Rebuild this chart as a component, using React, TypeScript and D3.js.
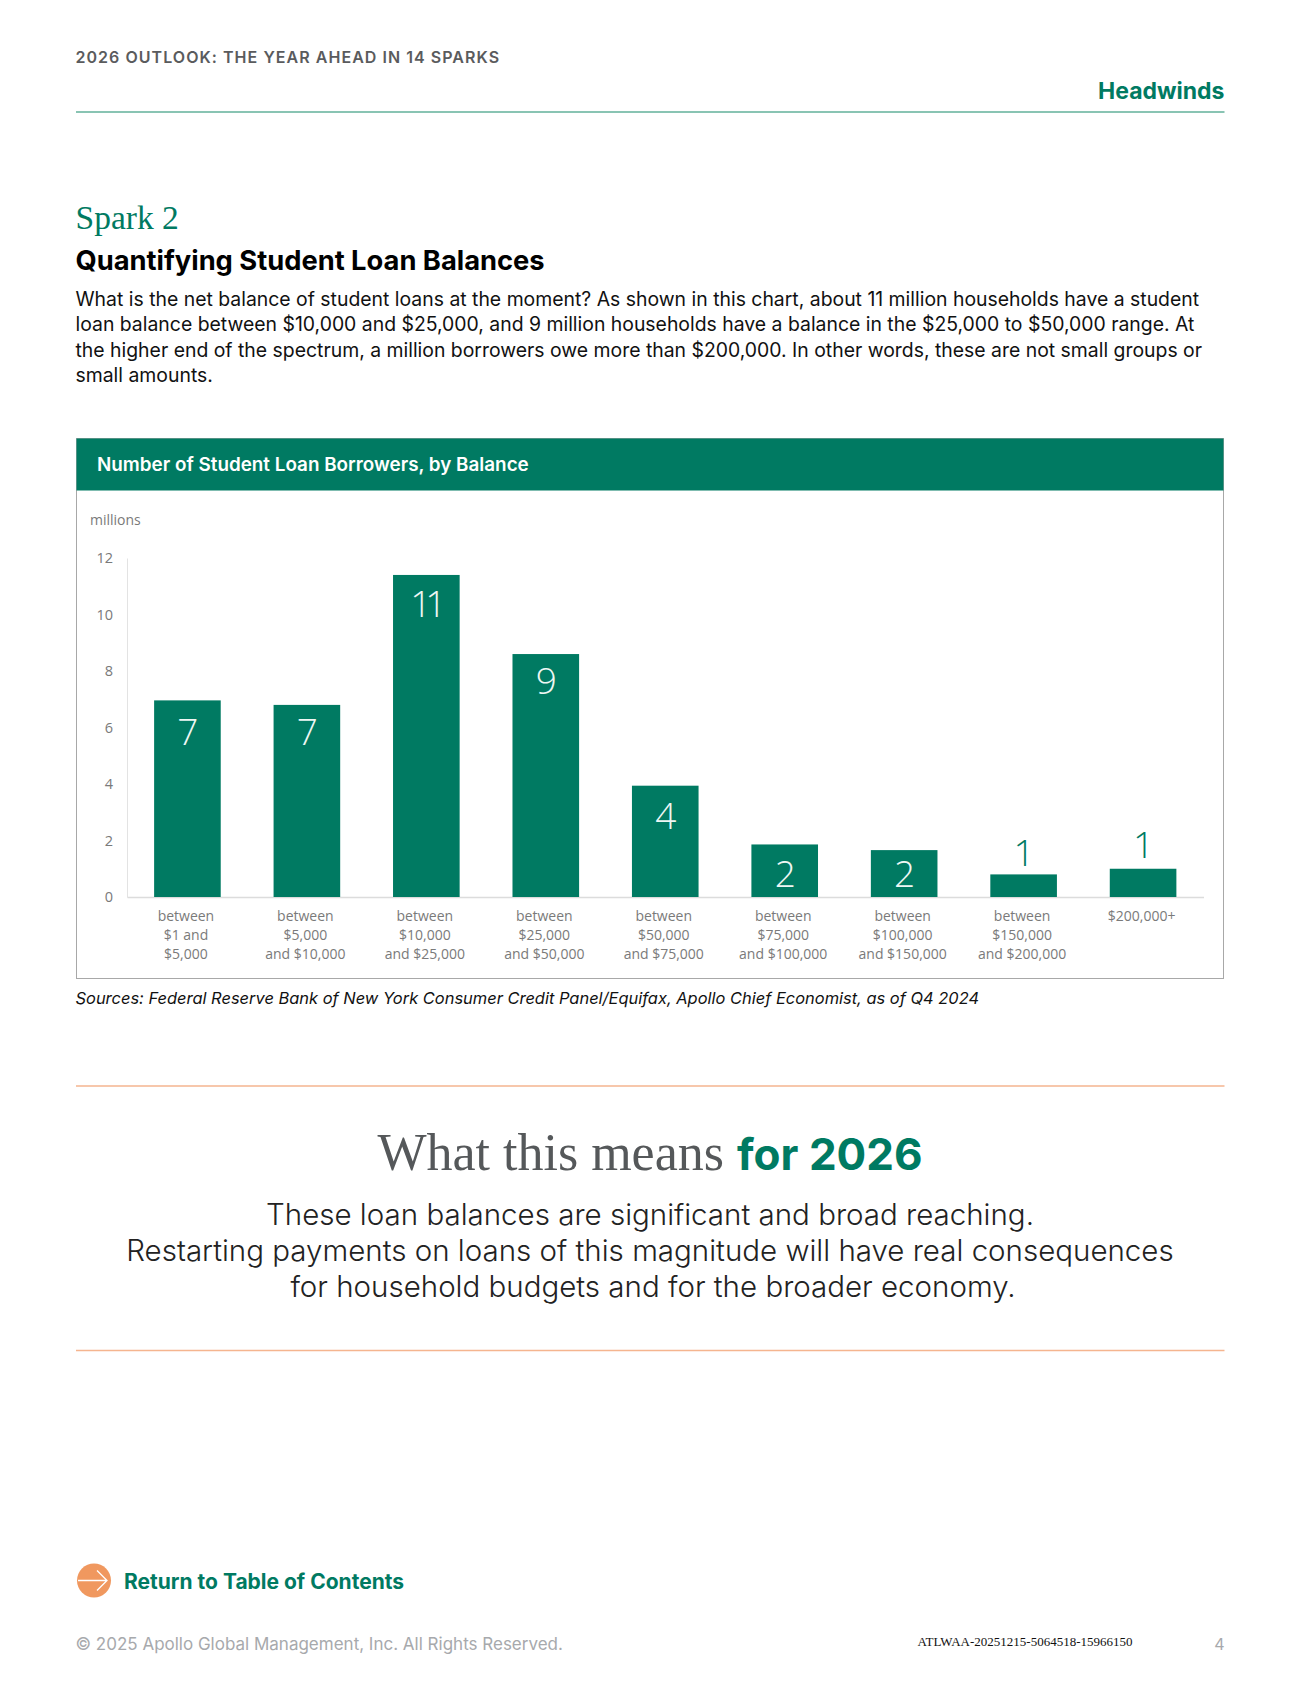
import {default as React, useEffect, useRef} from "react";
import * as d3 from "d3";

const balanceLabels: string[][] = [
    ["between", "$1 and", "$5,000"],
    ["between", "$5,000", "and $10,000"],
    ["between", "$10,000", "and $25,000"],
    ["between", "$25,000", "and $50,000"],
    ["between", "$50,000", "and $75,000"],
    ["between", "$75,000", "and $100,000"],
    ["between", "$100,000", "and $150,000"],
    ["between", "$150,000", "and $200,000"],
    ["$200,000+"]
];
const borrowers = [6.96, 6.8, 11.4, 8.6, 3.94, 1.86, 1.66, 0.8, 1.0];
const valueLabels = ["7", "7", "11", "9", "4", "2", "2", "1", "1"];
const yTicks = [0, 2, 4, 6, 8, 10, 12];

const bodyLines = [
    "What is the net balance of student loans at the moment? As shown in this chart, about 11 million households have a student",
    "loan balance between $10,000 and $25,000, and 9 million households have a balance in the $25,000 to $50,000 range. At",
    "the higher end of the spectrum, a million borrowers owe more than $200,000. In other words, these are not small groups or",
    "small amounts."
];
const meansLines = [
    "These loan balances are significant and broad reaching.",
    "Restarting payments on loans of this magnitude will have real consequences",
    "for household budgets and for the broader economy."
];

const width = 1300;
const height = 1683;
const green = "#007a62";
const sans = "Inter, sans-serif";
const chartFont = "'Open Sans', sans-serif";
const serif = "'Liberation Serif', serif";

const plot = {left: 127, right: 1203.5, top: 558, bottom: 897};
// baseline of each value label, measured down from the top of its bar
const labelDrop = [45, 40, 42.5, 40, 43, 43, 37, -8, -11];

export default function App() {
    const svgRef = useRef<SVGSVGElement>(null);

    useEffect(() => {
        const svg = d3.select(svgRef.current);
        svg.selectAll("*").remove();

        function text(x: number, y: number, s: string, size: number, fill: string, opts: any = {}) {
            return svg.append("text")
                .attr("x", x)
                .attr("y", y)
                .attr("font-family", opts.family || sans)
                .attr("font-size", size)
                .attr("font-weight", opts.weight || 400)
                .attr("font-style", opts.style || "normal")
                .attr("text-anchor", opts.anchor || "start")
                .attr("letter-spacing", opts.spacing || 0)
                .attr("fill", fill)
                .text(s);
        }
        function rule(y: number, color: string) {
            svg.append("line")
                .attr("x1", 76).attr("x2", 1224.5)
                .attr("y1", y).attr("y2", y)
                .attr("stroke", color)
                .attr("stroke-width", 1.5);
        }

        // page header
        text(75.5, 63, "2026 OUTLOOK: THE YEAR AHEAD IN 14 SPARKS", 16, "#5a5b5d", {weight: 600, spacing: 1.04});
        text(1224.5, 99, "Headwinds", 23, green, {weight: 700, anchor: "end"});
        rule(112, "#62b09a");

        text(75.5, 229, "Spark 2", 33.5, green, {family: serif});
        text(75.5, 270, "Quantifying Student Loan Balances", 27.3, "#000", {weight: 700});
        bodyLines.forEach((line, i) => {
            text(75.5, 306 + i * 25.3, line, 19.4, "#111");
        });

        // chart frame and title bar
        svg.append("rect")
            .attr("x", 76.5).attr("y", 438.5)
            .attr("width", 1147).attr("height", 540)
            .attr("fill", "#fff")
            .attr("stroke", "#a8a8a8")
            .attr("stroke-width", 1);
        svg.append("rect")
            .attr("x", 76.5).attr("y", 438.5)
            .attr("width", 1147).attr("height", 52)
            .attr("fill", green);
        text(97, 471, "Number of Student Loan Borrowers, by Balance", 18.85, "#fff", {weight: 600});

        text(90, 525, "millions", 14, "#7a7a7a", {family: chartFont});

        const xScale = d3.scaleBand<number>()
            .domain(borrowers.map((_, i) => i))
            .range([plot.left, plot.right])
            .paddingInner(0.4424)
            .paddingOuter(0.227);

        const yScale = d3.scaleLinear()
            .domain([0, 12])
            .range([plot.bottom, plot.top]);

        const yAxis = d3.axisLeft(yScale).tickValues(yTicks).tickSize(0).tickPadding(14);
        const gy = svg.append("g")
            .attr("transform", `translate(${plot.left},0)`)
            .call(yAxis as any);
        gy.select(".domain").attr("stroke", "#e3e3e3");
        gy.selectAll("text")
            .attr("font-family", chartFont)
            .attr("font-size", 14.5)
            .attr("fill", "#7a7a7a");

        const xAxis = d3.axisBottom(xScale).tickSize(0).tickFormat(() => "");
        const gx = svg.append("g")
            .attr("transform", `translate(0,${plot.bottom})`)
            .call(xAxis as any);
        gx.select(".domain").attr("stroke", "#dcdcdc").attr("stroke-width", 1.5);

        const center = (i: number) => (xScale(i) as number) + xScale.bandwidth() / 2;

        svg.append("g")
            .selectAll("rect")
            .data(borrowers)
            .join("rect")
            .attr("x", (_, i) => xScale(i) as number)
            .attr("y", d => yScale(d))
            .attr("width", xScale.bandwidth())
            .attr("height", d => plot.bottom - yScale(d))
            .attr("fill", green);

        // the value sits inside the bar unless the bar is too short for it
        borrowers.forEach((d, i) => {
            const label = valueLabels[i];
            text(center(i) + (label.length > 1 ? -1 : 0.5), yScale(d) + labelDrop[i], label, 37,
                labelDrop[i] > 0 ? "#eef7f4" : green,
                {family: chartFont, weight: 300, anchor: "middle", spacing: label.length > 1 ? -6 : 0});
        });

        balanceLabels.forEach((lines, i) => {
            lines.forEach((line, j) => {
                text(center(i) - 1.5, 921 + j * 19.2, line, 14, "#7a7a7a", {family: chartFont, anchor: "middle"});
            });
        });

        text(75.5, 1004, "Sources: Federal Reserve Bank of New York Consumer Credit Panel/Equifax, Apollo Chief Economist, as of Q4 2024",
            16.44, "#111", {style: "italic"});

        // what this means
        rule(1086, "#f5b58f");
        const head = text(650, 1170, "What this means ", 52, "#55585a", {family: serif, anchor: "middle"});
        head.append("tspan")
            .attr("font-family", sans)
            .attr("font-weight", 700)
            .attr("font-size", 44)
            .attr("fill", green)
            .text("for 2026");
        meansLines.forEach((line, i) => {
            text(650 + (i === 2 ? 3 : 0), 1225 + i * 36, line, 29.5, "#222", {weight: 300, anchor: "middle"});
        });
        rule(1350.5, "#f5b58f");

        // footer
        svg.append("circle")
            .attr("cx", 94).attr("cy", 1580.5).attr("r", 17)
            .attr("fill", "#f0985f");
        svg.append("path")
            .attr("d", "M78 1580.5H107M97 1570.5L107 1580.5L97 1590.5")
            .attr("fill", "none")
            .attr("stroke", "#fff")
            .attr("stroke-width", 1.3);
        text(124, 1589, "Return to Table of Contents", 21, green, {weight: 700});
        text(75.5, 1650, "\u00a9 2025 Apollo Global Management, Inc. All Rights Reserved.", 17, "#a7a9ac");
        text(917.5, 1646, "ATLWAA-20251215-5064518-15966150", 13, "#111", {family: serif});
        text(1224.5, 1650, "4", 16, "#a7a9ac", {anchor: "end"});
    }, []);

    return (
        <svg
            ref={svgRef}
            width={width}
            height={height}
            style={{position: "absolute", left: 0, top: 0, backgroundColor: "white"}}
        />
    );
}
